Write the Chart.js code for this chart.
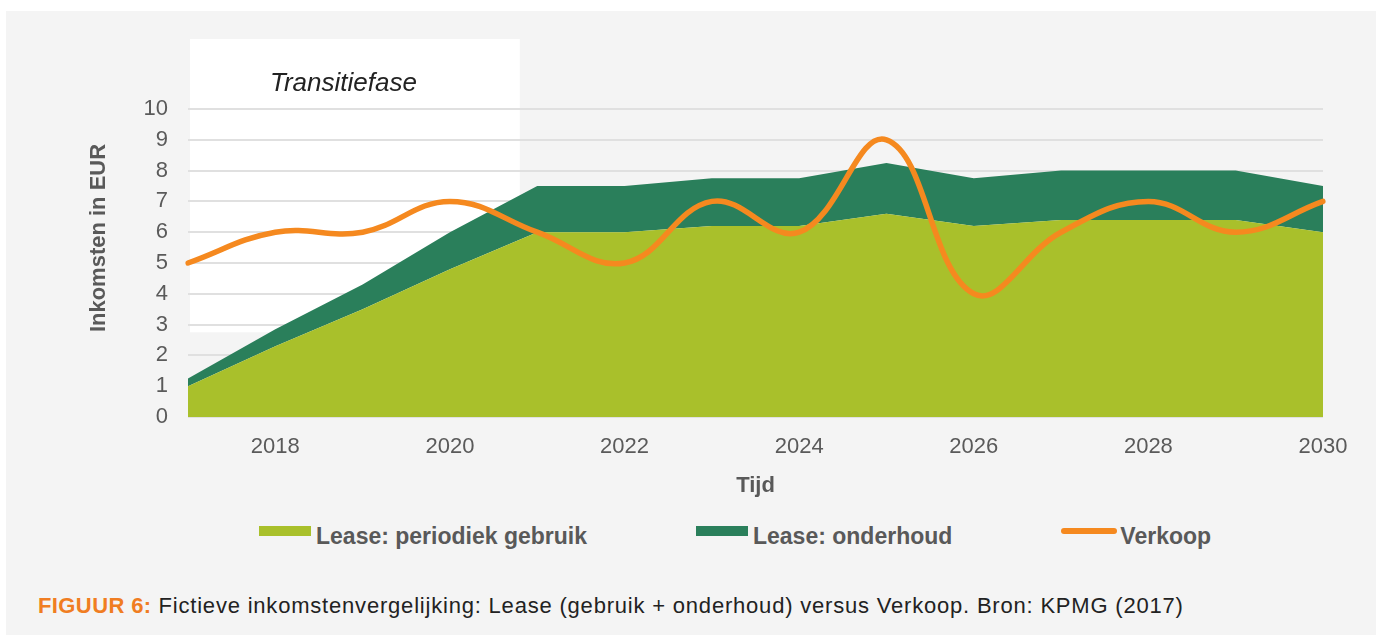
<!DOCTYPE html>
<html>
<head>
<meta charset="utf-8">
<script src="https://cdn.jsdelivr.net/npm/chart.js@4.4.1/dist/chart.umd.min.js"></script>
<style>
  html, body { margin: 0; padding: 0; background: #ffffff; width: 1376px; height: 635px; overflow: hidden; }
  #panel { position: absolute; left: 6px; top: 11px; right: 0; bottom: 0; background: #f4f4f4; }
  #chart { position: absolute; left: 0; top: 0; }
  #legend { position: absolute; left: 259px; top: 523px; display: flex; align-items: flex-start; gap: 109px;
            font-family: "Liberation Sans", Arial, sans-serif; font-weight: bold; font-size: 23px; color: #595959; }
  .item { display: flex; align-items: flex-start; }
  .sw { width: 52px; height: 10px; margin-top: 3px; margin-right: 5px; }
  .ln { width: 56px; height: 6px; border-radius: 3px; margin-top: 5px; margin-right: 3px; }
  #caption { position: absolute; left: 38px; top: 593px; font-family: "Liberation Sans", Arial, sans-serif;
             font-size: 22px; letter-spacing: 0.8px; color: #222; white-space: nowrap; }
  #caption b { color: #f07d22; letter-spacing: 0.4px; }
</style>
</head>
<body>
<div id="panel"></div>
<canvas id="chart" width="1376" height="500"></canvas>
<div id="legend"></div>
<div id="caption"><b>FIGUUR 6:</b> Fictieve inkomstenvergelijking: Lease (gebruik + onderhoud) versus Verkoop. Bron: KPMG (2017)</div>
<script>
// ---- data ----
const years = [2017, 2018, 2019, 2020, 2021, 2022, 2023, 2024, 2025, 2026, 2027, 2028, 2029, 2030];
const leaseGebruik = [1.0, 2.3, 3.5, 4.8, 6.0, 6.0, 6.2, 6.2, 6.6, 6.2, 6.4, 6.4, 6.4, 6.0];
const leaseOnderhoud = [0.25, 0.55, 0.8, 1.2, 1.5, 1.5, 1.55, 1.55, 1.65, 1.55, 1.6, 1.6, 1.6, 1.5];
const verkoop = [5, 6, 6, 7, 6, 5, 7, 6, 9, 4, 6, 7, 6, 7];
const yTicks = [0, 1, 2, 3, 4, 5, 6, 7, 8, 9, 10];
const seriesNames = ["Lease: periodiek gebruik", "Lease: onderhoud", "Verkoop"];
const yTitle = "Inkomsten in EUR";
const xTitle = "Tijd";
const phaseLabel = "Transitiefase";
const phaseEnd = 3.8;     // index position where transition phase box ends
const phaseBottom = 2.75; // value where the transition box ends

const cLight = "#a9c02b", cDark = "#2a7f5b", cOrange = "#f5891f";

const decor = {
  id: "decor",
  beforeDraw(chart) {
    const { ctx, scales: { x, y } } = chart;
    const left = x.getPixelForValue(0) + 2;
    const right = x.getPixelForValue(phaseEnd);
    const bottom = y.getPixelForValue(phaseBottom);
    ctx.save();
    ctx.fillStyle = "#ffffff";
    ctx.fillRect(left, 39, right - left, bottom - 39);
    ctx.fillStyle = "#222222";
    ctx.font = "italic 26px 'Liberation Sans', Arial, sans-serif";
    ctx.textBaseline = "alphabetic";
    ctx.fillText(phaseLabel, 270, 91);
    ctx.restore();
  },
  afterDraw(chart) {
    const { ctx } = chart;
    ctx.save();
    ctx.translate(99, 238);
    ctx.rotate(-Math.PI / 2);
    ctx.fillStyle = "#595959";
    ctx.font = "bold 22px 'Liberation Sans', Arial, sans-serif";
    ctx.textAlign = "center";
    ctx.textBaseline = "middle";
    ctx.fillText(yTitle, 0, 0);
    ctx.restore();
  }
};

new Chart(document.getElementById("chart"), {
  type: "line",
  data: {
    labels: years,
    datasets: [
      { label: seriesNames[2], data: verkoop, stack: "verkoop", borderColor: cOrange, borderWidth: 5.5,
        tension: 0.4, fill: false, pointRadius: 0, borderCapStyle: "round" },
      { label: seriesNames[0], data: leaseGebruik, stack: "lease", borderWidth: 0, borderColor: cLight,
        backgroundColor: cLight, fill: "origin", pointRadius: 0, tension: 0 },
      { label: seriesNames[1], data: leaseOnderhoud, stack: "lease", borderWidth: 0, borderColor: cDark,
        backgroundColor: cDark, fill: 1, pointRadius: 0, tension: 0 }
    ]
  },
  options: {
    responsive: false,
    animation: false,
    layout: { padding: { left: 0, right: 53, top: 109, bottom: 0 } },
    plugins: { legend: { display: false }, tooltip: { enabled: false } },
    scales: {
      x: {
        type: "category",
        offset: false,
        grid: { display: false },
        border: { display: false },
        ticks: {
          autoSkip: false, maxRotation: 0, padding: 9,
          color: "#5a5a5a", font: { family: "'Liberation Sans', Arial, sans-serif", size: 22 },
          callback(v, i) { const yr = years[i]; return yr % 2 === 0 ? String(yr) : ""; }
        },
        title: { display: true, text: xTitle, color: "#595959",
                 font: { family: "'Liberation Sans', Arial, sans-serif", size: 22, weight: "bold" },
                 padding: { top: 0, bottom: 1 } },
        afterFit(s) { s.height = 83; }
      },
      y: {
        stacked: true,
        min: 0, max: 10,
        afterBuildTicks(s) { s.ticks = yTicks.map(v => ({ value: v })); },
        grid: { color: "#e0e0e0", lineWidth: 2, drawTicks: false },
        border: { display: false },
        ticks: { padding: 20, color: "#5a5a5a",
                 font: { family: "'Liberation Sans', Arial, sans-serif", size: 22 } },
        afterFit(s) { s.width = 188; }
      }
    }
  },
  plugins: [decor]
});

// HTML legend built from series names
const legend = document.getElementById("legend");
[[seriesNames[0], cLight, "sw"], [seriesNames[1], cDark, "sw"], [seriesNames[2], cOrange, "ln"]].forEach(([n, c, cls]) => {
  const it = document.createElement("div"); it.className = "item";
  const sw = document.createElement("div"); sw.className = cls; sw.style.background = c;
  const t = document.createElement("span"); t.textContent = n;
  it.appendChild(sw); it.appendChild(t); legend.appendChild(it);
});
</script>
</body>
</html>
